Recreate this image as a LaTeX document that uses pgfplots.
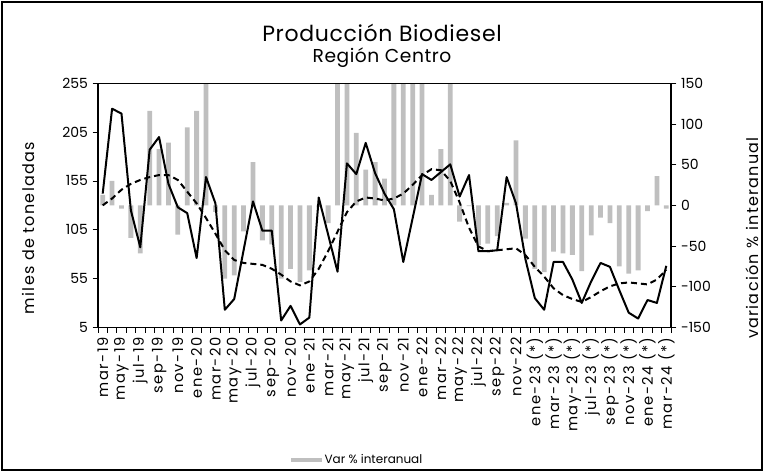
\documentclass[border=0pt]{standalone}
\usepackage{pgfplots}
\usepackage{pgfplotstable}
\pgfplotsset{compat=1.18}
\usepackage{fontspec}
\setmainfont{Poppins}
\newfontfamily\tickfont{Poppins}[LetterSpace=10]
\newfontfamily\labfont{Poppins}[LetterSpace=8]
\newfontfamily\titfont{Poppins}[LetterSpace=3]
\definecolor{bargray}{RGB}{191,191,191}

\pgfplotstableread{
i prod trend var
0 142 130 13
1 229 137 30
2 224 146 -4
3 125 152 -40
4 87 156 -59
5 187 159 116
6 200 161 69
7 152 161 77
8 128 156 -36
9 122 144 96
10 76 132 116
11 159 117 180
12 132 101 -8
13 23 84 -90
14 34 74 -86
15 84 71 -32
16 134 70 53
17 104 69 -43
18 104 65 -48
19 12 59 -90
20 27 52 -78
21 8 48 -94
22 15 52 -80
23 138 65 -2
24 100 83 -22
25 62 103 180
26 173 123 180
27 162 134 89
28 194 138 44
29 163 137 53
30 142 135 33
31 126 137 180
32 72 142 180
33 117 151 180
34 162 161 180
35 156 167 13
36 164 166 69
37 172 155 180
38 139 133 -20
39 161 107 -1
40 83 88 -49
41 83 83 -47
42 84 84 -38
43 159 85 3
44 132 86 80
45 75 79 -41
46 35 67 -78
47 23 57 -82
48 72 45 -57
49 72 38 -59
50 54 34 -61
51 30 31 -81
52 52 36 -37
53 71 42 -15
54 67 47 -22
55 43 50 -75
56 20 51 -84
57 14 50 -80
58 33 49 -7
59 30 54 36
60 68 64 -4
}\data

\begin{document}
\begin{tikzpicture}
\path[use as bounding box] (-73.5pt,-108.5pt) rectangle (499.5pt,245.5pt);
\draw[line width=1.6pt] (-71.7pt,-106.7pt) rectangle (497.7pt,243.7pt);

% bars on right axis
\begin{axis}[
  at={(0pt,0pt)}, anchor=south west,
  scale only axis, width=429.75pt, height=183pt,
  xmin=-0.5, xmax=60.5,
  ymin=-150, ymax=150,
  axis x line=none,
  axis y line*=right,
  ytick={-150,-100,...,150},
  tick align=outside,
  major tick length=4pt,
  tick style={black, line width=0.6pt},
  axis line style={black, line width=0.8pt},
  tick label style={font=\fontsize{10.5}{11}\selectfont},
  /pgf/number format/assume math mode=true,
  ylabel={variación \% interanual},
  ylabel style={font=\labfont\fontsize{12}{13}\selectfont, at={(axis description cs:1.141,0.366)}, anchor=center, rotate=0},
  legend style={at={(axis description cs:0.454,-0.544)}, anchor=center, draw=none, fill=none,
    font=\fontsize{9}{10}\selectfont, inner sep=1pt},
  legend image code/.code={\fill[bargray] (0pt,-1.6pt) rectangle (23pt,1.6pt);},
]
\addplot[ybar, bar width=3.6pt, bar shift=0pt, fill=bargray, draw=none] table[x=i, y=var] {\data};
\addlegendentry{Var \% interanual}
\end{axis}

% lines on left axis
\begin{axis}[
  at={(0pt,0pt)}, anchor=south west,
  scale only axis, width=429.75pt, height=183pt,
  xmin=-0.5, xmax=60.5,
  ymin=5, ymax=255,
  ytick={5,55,105,155,205,255},
  ytick pos=left, xtick pos=bottom,
  tick align=outside,
  major tick length=4pt,
  minor tick length=4pt,
  tick style={black, line width=0.6pt},
  axis line style={black, line width=0.8pt},
  xtick={0,2,...,60},
  minor xtick={-0.5,0.5,...,60.5},
  major x tick style={draw=none},
  xticklabels={mar-19,may-19,jul-19,sep-19,nov-19,ene-20,mar-20,may-20,jul-20,sep-20,nov-20,ene-21,mar-21,may-21,jul-21,sep-21,nov-21,ene-22,mar-22,may-22,jul-22,sep-22,nov-22,{ene-23 (*)},{mar-23 (*)},{may-23 (*)},{jul-23 (*)},{sep-23 (*)},{nov-23 (*)},{ene-24 (*)},{mar-24 (*)}},
  xticklabel style={rotate=90, anchor=east, font=\tickfont\fontsize{11}{12}\selectfont},
  yticklabel style={font=\fontsize{10.5}{11}\selectfont},
  /pgf/number format/assume math mode=true,
  ylabel={miles de toneladas},
  ylabel style={font=\labfont\fontsize{12}{13}\selectfont, at={(axis description cs:-0.122,0.407)}, anchor=center},
]
\addplot[black, line width=1.5pt, dashed, dash pattern=on 4.5pt off 3pt] table[x=i, y=trend] {\data};
\addplot[black, line width=1.5pt, line join=round] table[x=i, y=prod] {\data};
\end{axis}

\node[font=\titfont\fontsize{16.5}{18}\selectfont] at (213pt,220.7pt) {Producción Biodiesel};
\node[font=\titfont\fontsize{14}{15}\selectfont] at (213pt,202pt) {Región Centro};
\end{tikzpicture}
\end{document}
